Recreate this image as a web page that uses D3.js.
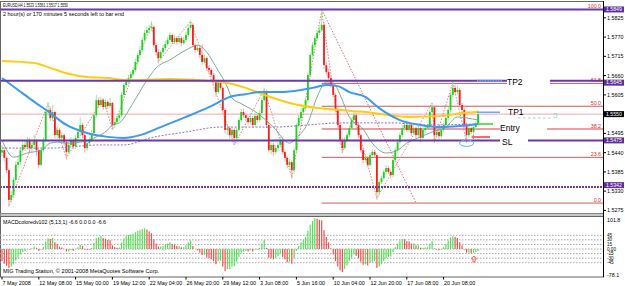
<!DOCTYPE html>
<html>
<head>
<meta charset="utf-8">
<script src="https://d3js.org/d3.v7.min.js"></script>
<style>
  body { margin: 0; background: #fff; }
  svg { display: block; font-family: "Liberation Sans", Arial, sans-serif; }
</style>
</head>
<body>
<div id="chart"></div>
<script>
// EURUSD H4, prices in points (1.5447 -> 15447)
var open = [15440,15447,15425,15390,15305,15319,15362,15405,15413,15447,
  15462,15456,15476,15453,15462,15476,15447,15405,15447,15476,
  15556,15562,15539,15556,15490,15505,15482,15490,15470,15442,
  15462,15476,15459,15482,15499,15519,15490,15453,15467,15476,
  15496,15547,15590,15576,15590,15570,15585,15573,15582,15519,
  15527,15539,15547,15605,15633,15642,15653,15665,15676,15699,
  15719,15733,15762,15782,15790,15796,15799,15747,15727,15710,
  15727,15739,15750,15762,15776,15756,15767,15756,15767,15753,
  15762,15776,15796,15805,15747,15733,15739,15719,15699,15710,
  15682,15676,15662,15642,15613,15642,15625,15562,15505,15510,
  15490,15505,15482,15505,15533,15556,15547,15539,15527,15539,
  15519,15545,15533,15553,15590,15613,15519,15447,15462,15442,
  15453,15462,15476,15442,15425,15405,15413,15390,15447,15519,
  15539,15556,15567,15590,15662,15719,15747,15767,15782,15790,
  15805,15690,15670,15653,15633,15605,15562,15519,15476,15453,
  15476,15490,15510,15533,15547,15519,15490,15447,15419,15425,
  15405,15433,15442,15433,15327,15356,15367,15385,15396,15385,
  15376,15419,15447,15470,15490,15510,15519,15505,15519,15496,
  15510,15490,15510,15482,15505,15510,15516,15556,15570,15490,
  15499,15487,15505,15519,15539,15562,15605,15625,15613,15619,
  15576,15562,15519,15490,15510,15499,15513,15523];
var high = [15462,15455,15430,15395,15330,15370,15415,15430,15455,15470,
  15475,15485,15482,15470,15490,15480,15450,15455,15485,15565,
  15585,15570,15575,15560,15515,15510,15500,15495,15475,15470,
  15485,15480,15490,15510,15540,15525,15495,15475,15485,15505,
  15555,15605,15598,15600,15595,15592,15590,15596,15585,15540,
  15548,15555,15612,15640,15652,15662,15672,15685,15708,15725,
  15745,15770,15790,15800,15805,15815,15802,15752,15735,15732,
  15748,15760,15770,15785,15780,15775,15772,15775,15772,15770,
  15785,15805,15818,15810,15752,15748,15745,15750,15720,15715,
  15690,15682,15668,15648,15650,15648,15630,15568,15520,15515,
  15512,15510,15512,15540,15565,15565,15552,15545,15548,15545,
  15552,15550,15560,15598,15625,15618,15525,15470,15468,15462,
  15472,15485,15480,15448,15430,15422,15418,15455,15525,15548,
  15565,15575,15598,15668,15725,15755,15775,15790,15800,15849,
  15812,15700,15680,15660,15640,15610,15570,15525,15482,15485,
  15498,15518,15540,15556,15555,15525,15495,15452,15435,15430,
  15440,15450,15448,15438,15362,15375,15392,15405,15402,15392,
  15425,15455,15478,15498,15518,15528,15525,15525,15522,15518,
  15515,15518,15515,15512,15518,15522,15562,15582,15575,15508,
  15505,15512,15525,15545,15570,15612,15647,15635,15630,15625,
  15582,15568,15525,15518,15515,15520,15530,15561];
var low = [15430,15415,15380,15285,15295,15310,15355,15395,15405,15440,
  15445,15450,15445,15440,15455,15430,15395,15400,15440,15470,
  15545,15530,15530,15480,15480,15470,15465,15460,15420,15435,
  15455,15450,15450,15475,15490,15480,15440,15445,15460,15470,
  15490,15540,15568,15570,15562,15565,15565,15568,15505,15510,
  15520,15530,15540,15598,15625,15635,15645,15658,15670,15690,
  15712,15728,15755,15775,15780,15788,15740,15718,15695,15705,
  15720,15732,15745,15755,15750,15750,15748,15750,15745,15748,
  15755,15770,15790,15740,15725,15728,15710,15690,15692,15675,
  15668,15655,15635,15600,15608,15618,15555,15495,15490,15480,
  15482,15462,15475,15500,15528,15540,15530,15518,15520,15512,
  15515,15525,15528,15548,15585,15510,15440,15435,15430,15435,
  15445,15455,15435,15415,15395,15398,15365,15380,15440,15512,
  15530,15550,15560,15585,15655,15712,15740,15760,15775,15785,
  15680,15660,15645,15625,15598,15555,15510,15465,15439,15448,
  15470,15485,15505,15528,15512,15482,15440,15410,15412,15398,
  15400,15428,15425,15305,15318,15350,15360,15378,15378,15368,
  15370,15412,15440,15465,15485,15502,15498,15498,15488,15490,
  15482,15485,15470,15478,15498,15505,15510,15548,15467,15482,
  15478,15480,15498,15512,15532,15555,15598,15605,15605,15570,
  15555,15510,15467,15482,15492,15492,15505,15517];
var close = [15447,15425,15390,15305,15319,15362,15405,15413,15447,15462,
  15456,15476,15453,15462,15476,15447,15405,15447,15476,15556,
  15562,15539,15556,15490,15505,15482,15490,15470,15442,15462,
  15476,15459,15482,15499,15519,15490,15453,15467,15476,15496,
  15547,15590,15576,15590,15570,15585,15573,15582,15519,15527,
  15539,15547,15605,15633,15642,15653,15665,15676,15699,15719,
  15733,15762,15782,15790,15796,15799,15747,15727,15710,15727,
  15739,15750,15762,15776,15756,15767,15756,15767,15753,15762,
  15776,15796,15805,15747,15733,15739,15719,15699,15710,15682,
  15676,15662,15642,15613,15642,15625,15562,15505,15510,15490,
  15505,15482,15505,15533,15556,15547,15539,15527,15539,15519,
  15545,15533,15553,15590,15613,15519,15447,15462,15442,15453,
  15462,15476,15442,15425,15405,15413,15390,15447,15519,15539,
  15556,15567,15590,15662,15719,15747,15767,15782,15790,15805,
  15690,15670,15653,15633,15605,15562,15519,15476,15453,15476,
  15490,15510,15533,15547,15519,15490,15447,15419,15425,15405,
  15433,15442,15433,15327,15356,15367,15385,15396,15385,15376,
  15419,15447,15470,15490,15510,15519,15505,15519,15496,15510,
  15490,15510,15482,15505,15510,15516,15556,15570,15490,15499,
  15487,15505,15519,15539,15562,15605,15625,15613,15619,15576,
  15562,15519,15490,15510,15499,15513,15523,15550];

// MACDcolored (5,13,1) histogram, one value per bar
var macd = [-40,-48,-55,-62,-58,-50,-38,-28,-18,-10,
  -6,0,-2,2,8,4,-6,-2,6,25,
  35,33,36,22,16,8,5,0,-8,-8,
  -4,-6,0,6,14,10,-2,-3,-2,4,
  20,35,38,42,36,34,30,29,12,6,
  4,5,22,35,42,46,48,50,55,60,
  62,66,68,64,58,52,32,18,8,8,
  10,14,18,22,16,14,10,10,6,6,
  12,22,28,10,0,-4,-12,-20,-20,-28,
  -30,-34,-40,-50,-40,-38,-58,-72,-66,-66,
  -58,-56,-42,-26,-12,-8,-6,-8,-4,-8,
  -2,-2,4,18,30,4,-28,-30,-34,-30,
  -24,-16,-26,-34,-44,-42,-48,-30,-6,10,
  22,30,40,60,80,92,101,99,96,94,
  62,40,22,2,-18,-40,-58,-70,-76,-66,
  -54,-40,-28,-18,-22,-30,-42,-52,-50,-54,
  -46,-42,-40,-62,-58,-50,-40,-30,-26,-24,
  -10,6,18,28,33,32,26,25,18,18,
  12,12,4,4,5,6,18,25,2,-2,
  -4,-2,6,16,28,38,42,40,36,22,
  12,-2,-12,-12,-14,-12,-10,-6.6];

// moving averages read at bar positions
var maYellowBar = [0,14,21,28,37,46,54,73,95,106,112,125,138,147,158,177,192,200,207];
var maYellow = [15702,15696,15682,15667,15656,15653,15647,15650,15642,15625,15610,15582,15567,15562,15556,15542,15545,15553,15556];
var maBlueBar = [0,7,13,21,28,37,46,53,60,69,80,90,99,106,112,121,130,135,141,146,151,158,164,173,182,190,199,207];
var maBlue = [15653,15619,15590,15553,15519,15496,15485,15482,15490,15513,15542,15570,15599,15607,15613,15613,15619,15625,15633,15630,15613,15599,15567,15533,15519,15513,15516,15522];
var maThinBar = [0,5,11,17,21,24,28,34,40,46,48,51,57,63,67,73,80,85,89,93,98,100,104,111,118,125,128,133,137,141,144,147,151,157,161,167,172,176,182,187,193,198,202,207];
var maThin = [15476,15427,15439,15447,15467,15470,15467,15470,15482,15505,15519,15525,15582,15647,15682,15705,15733,15747,15727,15685,15627,15596,15580,15553,15513,15467,15482,15525,15599,15642,15639,15605,15542,15507,15467,15439,15447,15467,15485,15499,15513,15542,15539,15533];
var maDashBar = [0,21,43,53,65,80,95,106,118,133,147,158,170,184,207];
var maDash = [15453,15453,15462,15462,15483,15499,15513,15513,15513,15519,15525,15525,15525,15519,15522];

// zigzag swing points
var zzBar = [3,20,28,44,48,65,68,82,101,114,126,139,148,153,163,187,188,196,202];
var zzPrice = [15290,15580,15425,15595,15505,15810,15700,15815,15462,15620,15370,15845,15440,15550,15310,15582,15470,15640,15470];

// horizontal levels, fibo and trade setup
var levels = [15849, 15645, 15475, 15342];
var bidPrice = 15550;
var fibBars = [139, 180];
var fibPrices = [15849, 15296];
var fibLevels = [100, 61.8, 50, 38.2, 23.6, 0];
var setupNames = ["TP2", "TP1", "Entry", "SL"];
var setupPrices = [15645, 15555, 15522, 15485];
var setupColors = ["#66aaff", "#66aaff", "#33cc33", "#ff3333"];

// 1.5550 sits under the bid label, so it is not listed
var priceTicks = [15825,15770,15715,15660,15605,15495,15440,15385,15330,15275];
var macdLevels = [45, 30, 15, 0, -15, -30, -45];
var timeBars = [0,16,32,48,64,80,96,112,128,144,160,176,192];
var timeLabels = ["7 May 2008","12 May 08:00","15 May 00:00","19 May 12:00","22 May 04:00","26 May 20:00",
  "29 May 12:00","3 Jun 08:00","5 Jun 16:00","10 Jun 04:00","12 Jun 20:00","17 Jun 08:00","20 Jun 08:00"];
</script>
<script>
var W = 625, H = 286, right = 603.5;

var svg = d3.select("#chart").append("svg")
    .attr("width", W).attr("height", H);

var x = d3.scaleLinear().domain([0, 207]).range([2, 478.1]);
var y = d3.scaleLinear().domain([15275, 15825]).range([210.4, 17.85]);
var ym = d3.scaleLinear().domain([-78.1, 101.8]).range([272.8, 218]);

svg.append("clipPath").attr("id", "mainClip")
  .append("rect").attr("x", 0).attr("y", 1).attr("width", right).attr("height", 212);
svg.append("clipPath").attr("id", "macdClip")
  .append("rect").attr("x", 0).attr("y", 217).attr("width", right).attr("height", 60);

var main = svg.append("g").attr("clip-path", "url(#mainClip)");

// bid line
main.append("line")
  .attr("x1", 0).attr("x2", right)
  .attr("y1", y(bidPrice)).attr("y2", y(bidPrice))
  .attr("stroke", "#f2a6a6").attr("stroke-width", 1);

// fibo retracement
var fibX = x(fibBars[0]);
var fibGap = {61.8: [507, 550], 38.2: [500, 547]};
fibLevels.forEach(function (lv) {
  var p = fibPrices[1] + lv / 100 * (fibPrices[0] - fibPrices[1]);
  var yy = y(p);
  var segs = fibGap[lv] ? [[fibX, fibGap[lv][0]], [fibGap[lv][1], right]] : [[fibX, right]];
  segs.forEach(function (s) {
    main.append("line")
      .attr("x1", s[0]).attr("x2", s[1]).attr("y1", yy).attr("y2", yy)
      .attr("stroke", lv === 38.2 ? "#eaa0a0" : "#cc5a5a")
      .attr("stroke-width", lv === 38.2 ? 2 : 1);
  });
  main.append("text")
    .attr("x", 601).attr("y", yy - 1.5)
    .attr("text-anchor", "end")
    .attr("font-size", 5.3).attr("fill", "#cc3333")
    .text(lv.toFixed(1));
});
main.append("line")
  .attr("x1", x(fibBars[0])).attr("y1", y(fibPrices[0]))
  .attr("x2", x(fibBars[1])).attr("y2", y(fibPrices[1]))
  .attr("stroke", "#dd7070").attr("stroke-dasharray", "1.5,1.5");

// zigzag
main.append("path")
  .datum(zzBar.map(function (b, i) { return [b, zzPrice[i]]; }))
  .attr("fill", "none").attr("stroke", "#e08080").attr("stroke-dasharray", "1.5,1.5")
  .attr("d", d3.line().x(function (d) { return x(d[0]); }).y(function (d) { return y(d[1]); }));

// candles
var bars = main.append("g");
close.forEach(function (c, i) {
  var up = c >= open[i];
  bars.append("line")
    .attr("x1", x(i)).attr("x2", x(i))
    .attr("y1", y(high[i])).attr("y2", y(low[i]))
    .attr("stroke", up ? "#92e692" : "#f4a0a0").attr("stroke-width", 0.9);
  var top = y(Math.max(open[i], c)), bot = y(Math.min(open[i], c));
  bars.append("rect")
    .attr("x", x(i) - 0.9).attr("width", 1.8)
    .attr("y", top).attr("height", Math.max(0.8, bot - top))
    .attr("fill", up ? "#1fd01f" : "#ff1a1a");
});

// moving averages
function maLine(bs, vs, color, w, dash) {
  main.append("path")
    .datum(bs.map(function (b, i) { return [b, vs[i]]; }))
    .attr("fill", "none").attr("stroke", color).attr("stroke-width", w)
    .attr("stroke-dasharray", dash || null)
    .attr("d", d3.line().curve(d3.curveMonotoneX)
      .x(function (d) { return x(d[0]); }).y(function (d) { return y(d[1]); }));
}
maLine(maDashBar, maDash, "#9a6ccc", 1, "2,1.5");
maLine(maThinBar, maThin, "#6fa38a", 0.9);
maLine(maYellowBar, maYellow, "#ffcc11", 2);
maLine(maBlueBar, maBlue, "#3a9bf2", 2);

// purple levels
var levelGap = {15645: [507, 550], 15475: [500, 528]};
levels.forEach(function (p) {
  var yy = y(p);
  var segs = levelGap[p] ? [[0, levelGap[p][0]], [levelGap[p][1], right]] : [[0, right]];
  segs.forEach(function (s) {
    main.append("line")
      .attr("x1", s[0]).attr("x2", s[1]).attr("y1", yy).attr("y2", yy)
      .attr("stroke", "#6a3aa8").attr("stroke-width", 2)
      .attr("stroke-dasharray", p === 15342 ? "2,1" : null);
  });
});

// trade setup marks
setupNames.forEach(function (n, i) {
  var yy = y(setupPrices[i]);
  main.append("line")
    .attr("x1", 477).attr("x2", n === "TP2" ? 502 : n === "TP1" ? 500 : n === "Entry" ? 493 : 490)
    .attr("y1", yy).attr("y2", yy)
    .attr("stroke", setupColors[i]).attr("stroke-width", n === "TP2" ? 2 : 1.5)
    .attr("stroke-dasharray", n === "TP2" ? "1,0.6" : null);
});
var setupText = [[507, 85, "TP2"], [508, 115, "TP1"], [500, 131, "Entry"], [502, 145, "SL"]];
setupText.forEach(function (t) {
  main.append("text").attr("x", t[0]).attr("y", t[1])
    .attr("font-size", 8.5).attr("fill", "#000").text(t[2]);
});
main.append("line").attr("x1", 518).attr("x2", 552).attr("y1", 118).attr("y2", 118)
  .attr("stroke", "#8fd8d8").attr("stroke-dasharray", "2.5,2.5");
main.append("text").attr("x", 553).attr("y", 118).attr("font-size", 8)
  .attr("fill", "#8fd8d8").text("5");
main.append("ellipse").attr("cx", x(202)).attr("cy", y(15467)).attr("rx", 7).attr("ry", 3.2)
  .attr("fill", "none").attr("stroke", "#66aaff");
main.append("path").attr("d", "M471,137 l3,-2.5 v1.5 h3 v2 h-3 v1.5 z")
  .attr("fill", "#ff6666");

// titles
svg.append("text").attr("x", 3).attr("y", 7).attr("font-size", 5.4)
  .attr("textLength", 65).attr("lengthAdjust", "spacingAndGlyphs")
  .text("EURUSD,H4 1.5523 1.5561 1.5517 1.5550");
svg.append("text").attr("x", 3).attr("y", 15.5).attr("font-size", 5.6)
  .attr("textLength", 121).attr("lengthAdjust", "spacingAndGlyphs")
  .text("2 hour(s) or 170 minutes 5 seconds left to bar end");

// frames
svg.append("rect").attr("x", 0.5).attr("y", 1.5).attr("width", right - 0.5).attr("height", 212)
  .attr("fill", "none").attr("stroke", "#666");
svg.append("rect").attr("x", 0.5).attr("y", 213.5).attr("width", right - 0.5).attr("height", 3)
  .attr("fill", "#c8c8c8").attr("stroke", "#888");
svg.append("rect").attr("x", 0.5).attr("y", 216.5).attr("width", right - 0.5).attr("height", 60.5)
  .attr("fill", "none").attr("stroke", "#666");

// price axis
var pa = svg.append("g");
priceTicks.forEach(function (p) {
  pa.append("line").attr("x1", right).attr("x2", right + 2.5)
    .attr("y1", y(p)).attr("y2", y(p)).attr("stroke", "#000");
  pa.append("text").attr("x", 607).attr("y", y(p)).attr("dy", "0.35em")
    .attr("font-size", 5.4).text((p / 10000).toFixed(4));
});
// label boxes are nudged off the nearest tick label
var boxShift = {15645: 1.8, 15342: -1.8};
function priceBox(p, fill) {
  var cy = y(p) + (boxShift[p] || 0);
  pa.append("rect").attr("x", 604).attr("y", cy - 3).attr("width", 20).attr("height", 6)
    .attr("fill", fill);
  pa.append("text").attr("x", 606).attr("y", cy).attr("dy", "0.35em")
    .attr("font-size", 5.2).attr("fill", "#fff").text((p / 10000).toFixed(4));
}
levels.forEach(function (p) { priceBox(p, "#5e2f99"); });
priceBox(bidPrice, "#000");

// MACD panel
var mg = svg.append("g").attr("clip-path", "url(#macdClip)");
macdLevels.forEach(function (lv) {
  mg.append("line").attr("x1", 0).attr("x2", right)
    .attr("y1", ym(lv)).attr("y2", ym(lv))
    .attr("stroke", "#a8a8a8").attr("stroke-dasharray", "1.5,1.5");
});
macd.forEach(function (v, i) {
  var rising = i === 0 ? false : v >= macd[i - 1];
  mg.append("rect")
    .attr("x", x(i) - 0.6).attr("width", 1.2)
    .attr("y", Math.min(ym(0), ym(v))).attr("height", Math.abs(ym(v) - ym(0)))
    .attr("fill", rising ? "#55e055" : "#f05050");
});
mg.append("path").attr("d", "M474,256 l-2.5,3 h1.5 v3 h2 v-3 h1.5 z")
  .attr("fill", "none").attr("stroke", "#ff3333").attr("stroke-width", 0.8);
svg.append("text").attr("x", 3).attr("y", 224).attr("font-size", 5.3)
  .text("MACDcoloredv102 (5,13,1) -6.6 0.0 0.0 -6.6");
svg.append("text").attr("x", 3).attr("y", 272.5).attr("font-size", 5.6)
  .text("MIG Trading Station, \u00a9 2001-2008 MetaQuotes Software Corp.");

var ma = svg.append("g");
ma.append("text").attr("x", 607).attr("y", 220).attr("dy", "0.35em").attr("font-size", 5.3).text("101.8");
ma.append("text").attr("x", 607).attr("y", 275.5).attr("dy", "0.35em").attr("font-size", 5.3).text("-78.1");
macdLevels.forEach(function (lv) {
  ma.append("text").attr("x", 607).attr("y", ym(lv)).attr("dy", "0.35em")
    .attr("font-size", 4.6).text(lv === 0 ? "0.00" : lv);
});

// time axis
timeBars.forEach(function (b, i) {
  svg.append("line").attr("x1", x(b)).attr("x2", x(b)).attr("y1", 277).attr("y2", 279.5)
    .attr("stroke", "#000");
  svg.append("text").attr("x", x(b) + 0.5).attr("y", 284.5).attr("font-size", 5.4)
    .text(timeLabels[i]);
});
svg.append("line").attr("x1", right).attr("x2", right).attr("y1", 1).attr("y2", 277)
  .attr("stroke", "#000");
</script>
</body>
</html>
